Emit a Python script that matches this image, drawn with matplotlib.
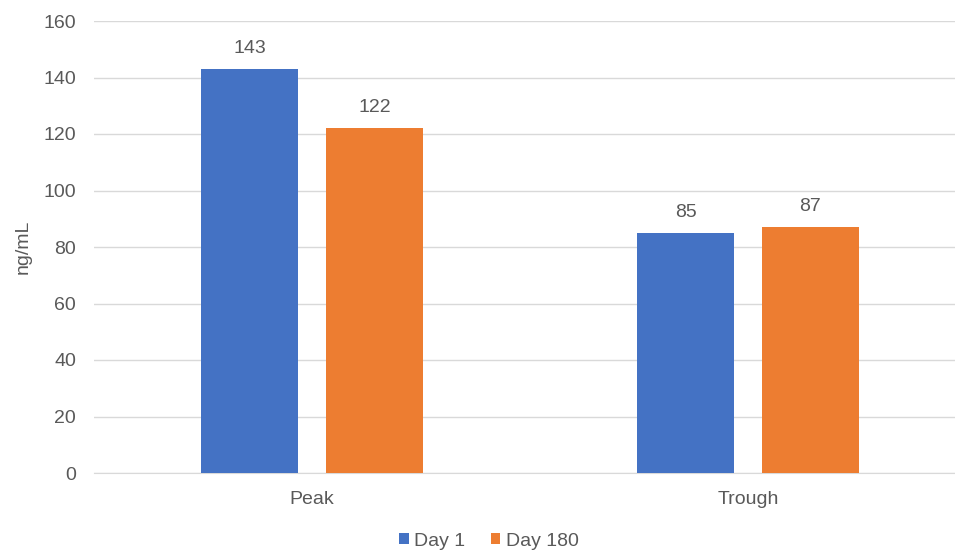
import matplotlib
matplotlib.use("Agg")
import matplotlib.pyplot as plt
import numpy as np

plt.rcParams['font.family'] = ['Liberation Sans', 'DejaVu Sans']

# data
categories = ["Peak", "Trough"]
day1 = [143, 85]
day180 = [122, 87]
series_names = ["Day 1", "Day 180"]
y_ticks = [0, 20, 40, 60, 80, 100, 120, 140, 160]

blue = "#4472C4"
orange = "#ED7D31"
txt = "#595959"
fs = 14

fig = plt.figure(figsize=(9.55, 5.52), dpi=100)
ax = fig.add_axes([94 / 955, 79 / 552, 872 / 955, 452 / 552])

x = np.arange(len(categories))
w = 0.223
off = 0.143
b1 = ax.bar(x - off, day1, w, color=blue, label=series_names[0], zorder=3)
b2 = ax.bar(x + off, day180, w, color=orange, label=series_names[1], zorder=3)

for bars in (b1, b2):
    for r in bars:
        ax.text(r.get_x() + r.get_width() / 2, r.get_height() + 4.3, str(int(r.get_height())),
                ha="center", va="bottom", fontsize=fs, color=txt)

ax.set_xlim(-0.5, 1.5)
ax.set_ylim(0, 160)
ax.set_yticks(y_ticks)
ax.set_xticks(x)
ax.set_xticklabels(categories)
ax.tick_params(axis="both", length=0, labelsize=fs, labelcolor=txt)
ax.tick_params(axis="y", pad=13)
ax.tick_params(axis="x", pad=13)
ax.grid(axis="y", color="#D9D9D9", linewidth=1, zorder=0)
for s in ["top", "right", "left"]:
    ax.spines[s].set_visible(False)
ax.spines["bottom"].set_color("#D9D9D9")
ax.set_ylabel("ng/mL", fontsize=fs, color=txt, labelpad=8)

fig.legend(loc="center", bbox_to_anchor=(489 / 955, 1 - 541 / 552), ncol=2, frameon=False,
           fontsize=fs, handlelength=0.5, handleheight=0.5, handletextpad=0.3,
           columnspacing=1.3, labelcolor=txt, borderpad=0)

fig.savefig("out.png", dpi=100)
